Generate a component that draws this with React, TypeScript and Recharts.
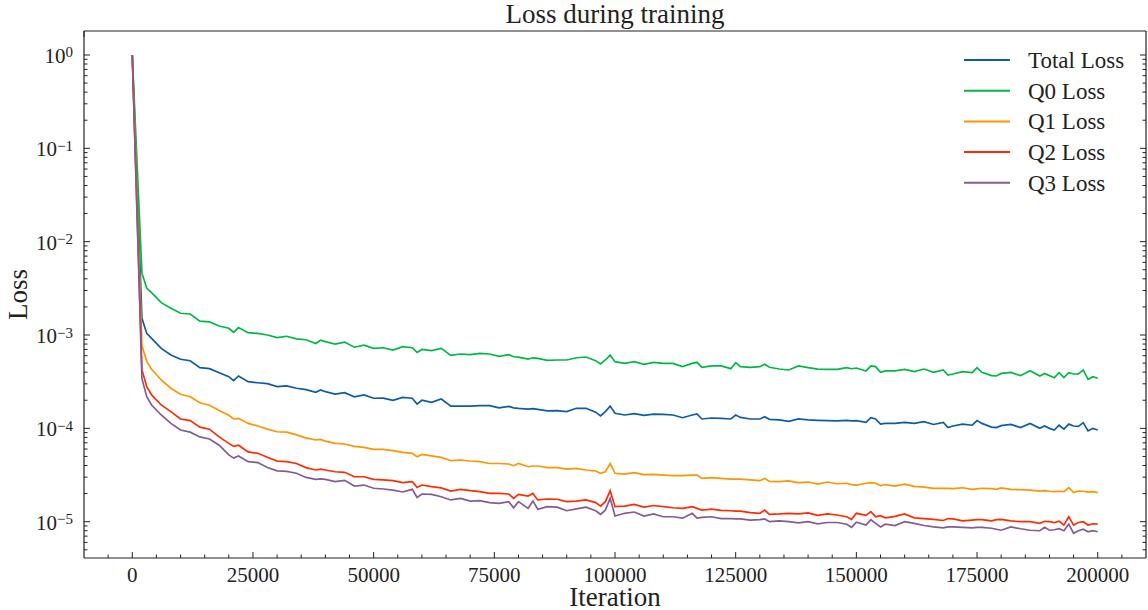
import { LineChart, Line, XAxis, YAxis, Legend } from 'recharts';

const FONT = '"Liberation Serif", "Times New Roman", serif';
const INK = '#222';

// iteration at which each loss sample was logged
const iterations = [
  0, 2000, 3000, 4000, 6000, 8000, 10000, 12000, 14000, 16000,
  18000, 20000, 21000, 22000, 24000, 26000, 28000, 30000, 32000, 34000,
  36000, 38000, 39000, 40000, 42000, 44000, 46000, 48000, 50000, 52000,
  54000, 56000, 58000, 59000, 60000, 62000, 64000, 66000, 68000, 70000,
  72000, 74000, 76000, 78000, 79000, 80000, 82000, 83000, 84000, 86000,
  88000, 90000, 92000, 94000, 96000, 97000, 98000, 99000, 100000, 102000,
  104000, 106000, 108000, 110000, 112000, 114000, 116000, 117000, 118000, 120000,
  122000, 124000, 125000, 126000, 128000, 130000, 131000, 132000, 134000, 136000,
  138000, 140000, 142000, 144000, 146000, 148000, 149000, 150000, 152000, 153000,
  154000, 155000, 156000, 158000, 160000, 162000, 164000, 166000, 168000, 169000,
  170000, 172000, 174000, 175000, 176000, 178000, 179000, 180000, 182000, 184000,
  186000, 188000, 189000, 190000, 191000, 192000, 193000, 194000, 195000, 196000,
  197000, 198000, 199000, 200000,
];

const totalLoss = [
  1.0, 1.51e-3, 1.04e-3, 9.2e-4, 7.2e-4, 6.1e-4, 5.5e-4, 5.3e-4, 4.47e-4, 4.36e-4,
  3.95e-4, 3.58e-4, 3.24e-4, 3.64e-4, 3.16e-4, 3.08e-4, 3.01e-4, 2.8e-4, 2.85e-4, 2.69e-4,
  2.6e-4, 2.43e-4, 2.58e-4, 2.47e-4, 2.33e-4, 2.41e-4, 2.18e-4, 2.28e-4, 2.1e-4, 2.11e-4,
  2.0e-4, 2.15e-4, 2.1e-4, 1.82e-4, 2.0e-4, 1.9e-4, 2.06e-4, 1.73e-4, 1.73e-4, 1.73e-4,
  1.75e-4, 1.75e-4, 1.66e-4, 1.72e-4, 1.66e-4, 1.64e-4, 1.61e-4, 1.63e-4, 1.6e-4, 1.54e-4,
  1.55e-4, 1.51e-4, 1.64e-4, 1.64e-4, 1.49e-4, 1.36e-4, 1.51e-4, 1.73e-4, 1.45e-4, 1.39e-4,
  1.44e-4, 1.38e-4, 1.42e-4, 1.41e-4, 1.39e-4, 1.3e-4, 1.39e-4, 1.43e-4, 1.26e-4, 1.29e-4,
  1.28e-4, 1.26e-4, 1.39e-4, 1.31e-4, 1.26e-4, 1.26e-4, 1.33e-4, 1.25e-4, 1.23e-4, 1.19e-4,
  1.26e-4, 1.23e-4, 1.22e-4, 1.21e-4, 1.2e-4, 1.22e-4, 1.2e-4, 1.21e-4, 1.16e-4, 1.3e-4,
  1.26e-4, 1.11e-4, 1.13e-4, 1.13e-4, 1.16e-4, 1.13e-4, 1.18e-4, 1.1e-4, 1.16e-4, 1.02e-4,
  1.06e-4, 1.11e-4, 1.08e-4, 1.21e-4, 1.13e-4, 1.03e-4, 1.02e-4, 1.07e-4, 1.1e-4, 1.02e-4,
  1.13e-4, 1.0e-4, 1.06e-4, 1.0e-4, 9.6e-5, 1.08e-4, 9.8e-5, 1.11e-4, 1.06e-4, 1.05e-4,
  1.15e-4, 9.4e-5, 1.0e-4, 9.6e-5,
];

const q0Loss = [
  1.0, 4.6e-3, 3.16e-3, 2.84e-3, 2.22e-3, 1.93e-3, 1.71e-3, 1.68e-3, 1.41e-3, 1.38e-3,
  1.25e-3, 1.18e-3, 1.07e-3, 1.2e-3, 1.06e-3, 1.04e-3, 1.0e-3, 9.4e-4, 9.7e-4, 9.1e-4,
  8.9e-4, 8.1e-4, 8.8e-4, 8.5e-4, 8.0e-4, 8.4e-4, 7.4e-4, 7.8e-4, 7.2e-4, 7.3e-4,
  6.9e-4, 7.5e-4, 7.3e-4, 6.5e-4, 7.0e-4, 6.8e-4, 7.2e-4, 6.05e-4, 6.26e-4, 6.15e-4,
  6.37e-4, 6.26e-4, 5.9e-4, 6.15e-4, 5.85e-4, 5.8e-4, 5.53e-4, 5.7e-4, 5.62e-4, 5.36e-4,
  5.4e-4, 5.4e-4, 5.71e-4, 5.81e-4, 5.31e-4, 4.9e-4, 5.4e-4, 6.1e-4, 5.18e-4, 4.97e-4,
  5.18e-4, 4.86e-4, 5.1e-4, 4.97e-4, 4.97e-4, 4.58e-4, 4.97e-4, 5.1e-4, 4.51e-4, 4.66e-4,
  4.66e-4, 4.36e-4, 5.06e-4, 4.58e-4, 4.51e-4, 4.58e-4, 4.86e-4, 4.51e-4, 4.32e-4, 4.22e-4,
  4.66e-4, 4.47e-4, 4.32e-4, 4.29e-4, 4.29e-4, 4.47e-4, 4.35e-4, 4.43e-4, 4.12e-4, 4.66e-4,
  4.58e-4, 3.98e-4, 4.12e-4, 4.12e-4, 4.29e-4, 4.05e-4, 4.32e-4, 3.98e-4, 4.22e-4, 3.73e-4,
  3.82e-4, 4.05e-4, 3.95e-4, 4.47e-4, 3.98e-4, 3.67e-4, 3.64e-4, 3.88e-4, 3.98e-4, 3.67e-4,
  4.15e-4, 3.64e-4, 3.88e-4, 3.67e-4, 3.49e-4, 3.95e-4, 3.5e-4, 3.95e-4, 3.82e-4, 3.82e-4,
  4.22e-4, 3.35e-4, 3.58e-4, 3.44e-4,
];

const q1Loss = [
  1.0, 7.7e-4, 5.2e-4, 4.3e-4, 3.3e-4, 2.69e-4, 2.32e-4, 2.18e-4, 1.88e-4, 1.77e-4,
  1.55e-4, 1.38e-4, 1.26e-4, 1.28e-4, 1.13e-4, 1.06e-4, 9.8e-5, 9.2e-5, 9.1e-5, 8.5e-5,
  7.9e-5, 7.5e-5, 7.6e-5, 7.3e-5, 6.9e-5, 6.8e-5, 6.4e-5, 6.26e-5, 5.96e-5, 5.96e-5,
  5.77e-5, 5.54e-5, 5.4e-5, 4.97e-5, 5.26e-5, 5.06e-5, 4.89e-5, 4.5e-5, 4.58e-5, 4.47e-5,
  4.4e-5, 4.2e-5, 4.2e-5, 4.15e-5, 3.98e-5, 4.2e-5, 3.88e-5, 3.95e-5, 3.95e-5, 3.79e-5,
  3.8e-5, 3.66e-5, 3.72e-5, 3.58e-5, 3.49e-5, 3.3e-5, 3.43e-5, 4.2e-5, 3.3e-5, 3.24e-5,
  3.35e-5, 3.19e-5, 3.21e-5, 3.16e-5, 3.11e-5, 3.11e-5, 3.16e-5, 3.16e-5, 2.91e-5, 2.96e-5,
  2.91e-5, 2.86e-5, 2.86e-5, 2.86e-5, 2.8e-5, 2.75e-5, 2.91e-5, 2.7e-5, 2.69e-5, 2.73e-5,
  2.62e-5, 2.66e-5, 2.53e-5, 2.66e-5, 2.55e-5, 2.58e-5, 2.5e-5, 2.47e-5, 2.58e-5, 2.62e-5,
  2.58e-5, 2.43e-5, 2.5e-5, 2.41e-5, 2.53e-5, 2.39e-5, 2.35e-5, 2.28e-5, 2.28e-5, 2.27e-5,
  2.26e-5, 2.31e-5, 2.22e-5, 2.25e-5, 2.28e-5, 2.26e-5, 2.22e-5, 2.3e-5, 2.22e-5, 2.2e-5,
  2.18e-5, 2.13e-5, 2.15e-5, 2.12e-5, 2.1e-5, 2.12e-5, 2.1e-5, 2.31e-5, 2.05e-5, 2.13e-5,
  2.12e-5, 2.07e-5, 2.1e-5, 2.05e-5,
];

const q2Loss = [
  1.0, 4.25e-4, 2.8e-4, 2.28e-4, 1.78e-4, 1.51e-4, 1.26e-4, 1.21e-4, 1.03e-4, 9.8e-5,
  8.1e-5, 6.9e-5, 6.4e-5, 6.6e-5, 5.6e-5, 5.4e-5, 4.9e-5, 4.46e-5, 4.4e-5, 4.2e-5,
  3.8e-5, 3.58e-5, 3.65e-5, 3.58e-5, 3.43e-5, 3.38e-5, 3.03e-5, 3.03e-5, 2.84e-5, 2.8e-5,
  2.75e-5, 2.62e-5, 2.69e-5, 2.33e-5, 2.47e-5, 2.37e-5, 2.3e-5, 2.13e-5, 2.22e-5, 2.15e-5,
  2.1e-5, 2.01e-5, 2.01e-5, 1.98e-5, 1.78e-5, 1.96e-5, 1.88e-5, 2.01e-5, 1.71e-5, 1.75e-5,
  1.74e-5, 1.64e-5, 1.66e-5, 1.71e-5, 1.6e-5, 1.47e-5, 1.64e-5, 2.15e-5, 1.45e-5, 1.47e-5,
  1.53e-5, 1.43e-5, 1.49e-5, 1.45e-5, 1.41e-5, 1.39e-5, 1.45e-5, 1.39e-5, 1.33e-5, 1.36e-5,
  1.32e-5, 1.31e-5, 1.3e-5, 1.3e-5, 1.25e-5, 1.23e-5, 1.33e-5, 1.2e-5, 1.21e-5, 1.23e-5,
  1.21e-5, 1.24e-5, 1.17e-5, 1.21e-5, 1.18e-5, 1.13e-5, 1.06e-5, 1.23e-5, 1.17e-5, 1.28e-5,
  1.13e-5, 1.16e-5, 1.1e-5, 1.14e-5, 1.21e-5, 1.1e-5, 1.08e-5, 1.06e-5, 1.03e-5, 1.08e-5,
  1.07e-5, 1.02e-5, 1.04e-5, 1.05e-5, 1.05e-5, 1.02e-5, 1.05e-5, 1.06e-5, 1.02e-5, 1.0e-5,
  1.0e-5, 9.6e-6, 1.01e-5, 1.0e-5, 9.8e-6, 1.01e-5, 9.2e-6, 1.13e-5, 9.2e-6, 9.8e-6,
  1.0e-5, 9.2e-6, 9.5e-6, 9.4e-6,
];

const q3Loss = [
  1.0, 3.4e-4, 2.18e-4, 1.78e-4, 1.39e-4, 1.13e-4, 9.6e-5, 9.1e-5, 8.1e-5, 7.7e-5,
  6.6e-5, 5.2e-5, 4.8e-5, 5.06e-5, 4.4e-5, 4.3e-5, 3.8e-5, 3.5e-5, 3.46e-5, 3.3e-5,
  2.98e-5, 2.84e-5, 2.88e-5, 2.84e-5, 2.69e-5, 2.77e-5, 2.41e-5, 2.47e-5, 2.28e-5, 2.24e-5,
  2.18e-5, 2.08e-5, 2.22e-5, 1.82e-5, 1.98e-5, 1.96e-5, 1.85e-5, 1.71e-5, 1.78e-5, 1.66e-5,
  1.68e-5, 1.6e-5, 1.57e-5, 1.64e-5, 1.41e-5, 1.64e-5, 1.39e-5, 1.66e-5, 1.36e-5, 1.45e-5,
  1.43e-5, 1.31e-5, 1.37e-5, 1.43e-5, 1.31e-5, 1.2e-5, 1.33e-5, 1.78e-5, 1.15e-5, 1.23e-5,
  1.27e-5, 1.15e-5, 1.21e-5, 1.13e-5, 1.13e-5, 1.09e-5, 1.23e-5, 1.09e-5, 1.11e-5, 1.13e-5,
  1.08e-5, 1.08e-5, 1.07e-5, 1.07e-5, 1.04e-5, 1.05e-5, 1.07e-5, 1.0e-5, 1.02e-5, 1.0e-5,
  9.7e-6, 1.0e-5, 9.5e-6, 9.8e-6, 9.8e-6, 9.4e-6, 8.7e-6, 9.9e-6, 9.2e-6, 1.05e-5,
  9.6e-6, 8.8e-6, 9.4e-6, 9.1e-6, 1.0e-5, 9.6e-6, 9.1e-6, 8.8e-6, 8.6e-6, 8.8e-6,
  8.8e-6, 8.7e-6, 8.6e-6, 8.7e-6, 8.7e-6, 8.5e-6, 8.3e-6, 8.1e-6, 8.8e-6, 8.4e-6,
  8.1e-6, 8.0e-6, 8.7e-6, 8.1e-6, 8.2e-6, 8.4e-6, 8.0e-6, 9.4e-6, 7.5e-6, 8.0e-6,
  8.3e-6, 7.8e-6, 8.0e-6, 7.8e-6,
];

// axis ticks: major labelled every 25000, minor every 5000
const xTicks = [
  -5000, 0, 5000, 10000, 15000, 20000, 25000, 30000, 35000, 40000, 45000,
  50000, 55000, 60000, 65000, 70000, 75000, 80000, 85000, 90000, 95000,
  100000, 105000, 110000, 115000, 120000, 125000, 130000, 135000, 140000, 145000,
  150000, 155000, 160000, 165000, 170000, 175000, 180000, 185000, 190000, 195000,
  200000, 205000,
];
const yDecades = [1e-6, 1e-5, 1e-4, 1e-3, 1e-2, 1e-1, 1];
const yMinorSteps = [1, 2, 3, 4, 5, 6, 7, 8, 9];

const X_DOMAIN = [-10000, 210000];
const Y_DOMAIN = [4.083e-6, 1.807];

const yTicks = yDecades
  .flatMap((d) => yMinorSteps.map((s) => s * d))
  .filter((v) => v >= Y_DOMAIN[0] && v <= Y_DOMAIN[1]);

const series = [
  { key: 'total', name: 'Total Loss', color: '#0C5DA5', values: totalLoss },
  { key: 'q0', name: 'Q0 Loss', color: '#00B945', values: q0Loss },
  { key: 'q1', name: 'Q1 Loss', color: '#FF9500', values: q1Loss },
  { key: 'q2', name: 'Q2 Loss', color: '#FF2C00', values: q2Loss },
  { key: 'q3', name: 'Q3 Loss', color: '#845B97', values: q3Loss },
];

const chartData = iterations.map((iteration, i) => {
  const row: Record<string, number> = { iteration };
  series.forEach((s) => {
    row[s.key] = s.values[i];
  });
  return row;
});

const isMajorX = (v: number) => v % 25000 === 0;
const isMajorY = (v: number) => {
  const e = Math.log10(v);
  return Math.abs(e - Math.round(e)) < 1e-6;
};

const MAJOR = 6;
const MINOR = 3.5;

function BottomTick({ x, y, payload }: any) {
  const major = isMajorX(payload.value);
  return (
    <g>
      <line x1={x} x2={x} y1={y} y2={y - (major ? MAJOR : MINOR)} stroke={INK} strokeWidth={1} />
      {major && (
        <text x={x} y={y + 24} textAnchor="middle" fontSize={21} fontFamily={FONT} fill={INK}>
          {payload.value}
        </text>
      )}
    </g>
  );
}

function TopTick({ x, y, payload }: any) {
  const major = isMajorX(payload.value);
  return <line x1={x} x2={x} y1={y} y2={y + (major ? MAJOR : MINOR)} stroke={INK} strokeWidth={1} />;
}

function LeftTick({ x, y, payload }: any) {
  const major = isMajorY(payload.value);
  const exp = Math.round(Math.log10(payload.value));
  return (
    <g>
      <line x1={x} x2={x + (major ? MAJOR : MINOR)} y1={y} y2={y} stroke={INK} strokeWidth={1} />
      {major && (
        <text x={x - 11} y={y + 8} textAnchor="end" fontSize={21} fontFamily={FONT} fill={INK}>
          10
          <tspan dy={-5.5} fontSize={15}>
            {exp < 0 ? `\u2212${-exp}` : `${exp}`}
          </tspan>
        </text>
      )}
    </g>
  );
}

function RightTick({ x, y, payload }: any) {
  const major = isMajorY(payload.value);
  return <line x1={x} x2={x - (major ? MAJOR : MINOR)} y1={y} y2={y} stroke={INK} strokeWidth={1} />;
}

// keep legend entries in plotting order
function LegendBox() {
  return (
    <svg width={190} height={160}>
      {series.map((s, i) => {
        const cy = 18 + i * 30.7;
        return (
          <g key={s.key}>
            <line x1={9} x2={55} y1={cy} y2={cy} stroke={s.color} strokeWidth={2} />
            <text x={73} y={cy + 8} fontSize={23} fontFamily={FONT} fill={INK}>
              {s.name}
            </text>
          </g>
        );
      })}
    </svg>
  );
}

const axisLine = { stroke: INK, strokeWidth: 1.2 };

export default function App() {
  return (
    <div style={{ position: 'absolute', left: 0, top: 0, background: '#fff', fontFamily: FONT }}>
      <LineChart
        width={1148}
        height={610}
        data={chartData}
        margin={{ top: 30, right: 1, bottom: 0, left: 0 }}
      >
        <XAxis
          dataKey="iteration"
          type="number"
          domain={X_DOMAIN}
          allowDataOverflow
          ticks={xTicks}
          interval={0}
          tick={<BottomTick />}
          tickLine={false}
          tickSize={0}
          tickMargin={0}
          height={52}
          axisLine={axisLine}
          label={{
            content: () => (
              <text x={615} y={606} textAnchor="middle" fontSize={27} fontFamily={FONT} fill={INK}>
                Iteration
              </text>
            ),
          }}
        />
        <XAxis
          xAxisId="top"
          orientation="top"
          type="number"
          domain={X_DOMAIN}
          allowDataOverflow
          ticks={xTicks}
          interval={0}
          tick={<TopTick />}
          tickLine={false}
          tickSize={0}
          tickMargin={0}
          height={1}
          axisLine={axisLine}
          label={{
            content: () => (
              <text x={615} y={22.5} textAnchor="middle" fontSize={27} fontFamily={FONT} fill={INK}>
                Loss during training
              </text>
            ),
          }}
        />
        <YAxis
          type="number"
          scale="log"
          domain={Y_DOMAIN}
          allowDataOverflow
          ticks={yTicks}
          interval={0}
          tick={<LeftTick />}
          tickLine={false}
          tickSize={0}
          tickMargin={0}
          width={84}
          axisLine={axisLine}
          label={{
            content: () => (
              <text
                x={26.5}
                y={294.5}
                transform="rotate(-90, 26.5, 294.5)"
                textAnchor="middle"
                fontSize={27}
                fontFamily={FONT}
                fill={INK}
              >
                Loss
              </text>
            ),
          }}
        />
        <YAxis
          yAxisId="right"
          orientation="right"
          type="number"
          scale="log"
          domain={Y_DOMAIN}
          allowDataOverflow
          ticks={yTicks}
          interval={0}
          tick={<RightTick />}
          tickLine={false}
          tickSize={0}
          tickMargin={0}
          width={1}
          axisLine={axisLine}
        />
        <Legend
          layout="vertical"
          align="center"
          verticalAlign="middle"
          content={<LegendBox />}
          wrapperStyle={{ left: 955, top: 42, width: 190, height: 160 }}
        />
        {series.map((s) => (
          <Line
            key={s.key}
            type="linear"
            dataKey={s.key}
            name={s.name}
            stroke={s.color}
            strokeWidth={1.7}
            dot={false}
            activeDot={false}
            isAnimationActive={false}
          />
        ))}
      </LineChart>
    </div>
  );
}
